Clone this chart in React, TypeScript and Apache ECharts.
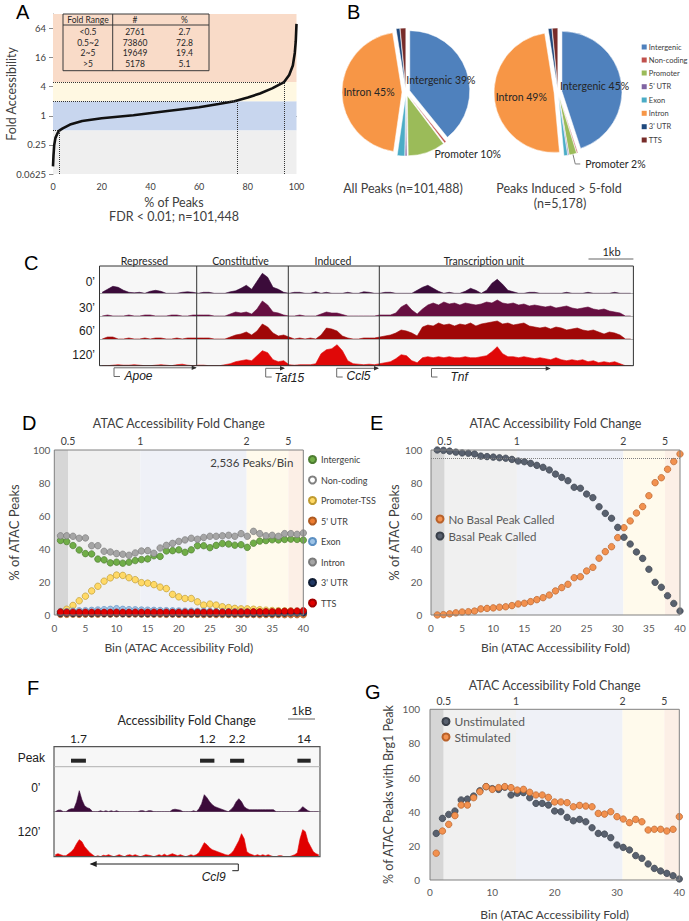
import React, { useEffect, useRef } from "react";
import * as echarts from "echarts";

// ---------------- Panel A data ----------------
const foldRanges = ["<0.5", "0.5~2", "2~5", ">5"];
const foldCounts = [2761, 73860, 19649, 5178];
const foldPercents = [2.7, 72.8, 19.4, 5.1];
const foldThresholds = [0.5, 2, 5];
const curvePct = [0, 0.2, 0.5, 1, 2, 2.7, 4, 7, 12, 20, 33, 47, 60, 68, 74.5, 80, 85, 90, 94.9, 97, 98.5, 99.3, 99.7, 100];
const curveFold = [0.09, 0.15, 0.25, 0.35, 0.45, 0.5, 0.55, 0.66, 0.78, 0.89, 1.03, 1.26, 1.5, 1.75, 2.0, 2.4, 2.9, 3.7, 5, 7, 11, 20, 35, 80];

// ---------------- Panel B data ----------------
const annoNames = ["Intergenic", "Non-coding", "Promoter", "5' UTR", "Exon", "Intron", "3' UTR", "TTS"];
const annoColors = ["#4f81bd", "#c0504d", "#9bbb59", "#8064a2", "#4bacc6", "#f79646", "#1f497d", "#772c2a"];
const allPeaksShare = [39, 0.5, 10, 0.5, 2, 45, 1, 1.5];
const inducedPeaksShare = [45, 0.3, 2, 0.3, 1, 49, 1, 1.5];

// ---------------- Panel C data (coverage per bin, 100 bins) ----------------
const cTimes = ["0\u2019", "30\u2019", "60\u2019", "120\u2019"];
const cSections = ["Repressed", "Constitutive", "Induced", "Transcription unit"];
const cCov0 = [1,4,7,6,3,1,0.5,1,0,2, 3,2,0,0,0,1,1.5,1,0,1, 1,0,0,0,1.5,2.5,5,8,4,12, 20,16,6,4,1,0,1,1,0,0, 1.5,0,1,0,0,0,1,0,0,1.5, 1,0,0,1,1,0,0,0,0,3, 6,8,5,2,0,1,0,0,2,5, 3,0,3,10,14,9,3,1.5,0,0, 1,1,0,0,0,0,0,1,0,0, 0,1,0,0,0,0,1,0,0,0];
const cCov30 = [0,1,0,0,0,1,0,0,1,1, 0,0,0,1,1,0,0,1,1,1, 1,0,0,0,2,4,3,4,2,7, 15,11,4,3,1,0,0,1,0,0, 0,2,4,3,3,1.5,0,0,0,0, 0,0,1,1,1,3,9,12,6,2, 7,11,13,11,14,12,13,11,13,12, 11,12,14,13,16,13,12,13,11,12, 10,11,10,9,10,8,9,10,8,7, 8,9,7,6,7,5,4,3,0,0];
const cCov60 = [0,2,2,0,0,1,0,0,1,0, 1,1,0,0,1,0,1,1,1,1, 1,0,0,0,2,4,5,7,4,8, 15,12,6,3,4,2,0,1,0,1, 0,4,11,10,8,3,1,0,0,1, 1,1,2,3,4,6,9,8,6,3, 12,14,13,16,14,15,13,15,14,16, 13,15,16,17,18,15,16,14,15,16, 13,12,11,12,10,12,11,9,10,11, 9,8,9,7,5,7,6,4,0,0];
const cCov120 = [0,0,0.5,1,0.5,0.5,1,0.5,0,0, 0.5,1,0.5,0,1,1.5,0.5,0,0.5,0.5, 0,0,0,1,2,4,5,6,5,10, 15,13,6,4,5,1,0.5,1,1,1, 2,12,16,17,21,15,5,2,1.5,1, 1.5,1,2,3,4,7,11,10,5,3, 8,9,8,9,8,9,8,8,9,8, 8,9,10,14,19,12,9,9,8,9, 8,7,8,7,6,8,6,5,6,5, 6,4,5,3,4,3,4,2,0,0];

// ---------------- Panel D/E/G data (40 bins) ----------------
const bins = Array.from({ length: 40 }, (_, i) => i + 1);
const foldBinBreaks = [2.2, 13.8, 30.9, 37.6];
const foldBreakLabels = ["0.5", "1", "2", "5"];
const dNames = ["Intergenic", "Non-coding", "Promoter-TSS", "5' UTR", "Exon", "Intron", "3' UTR", "TTS"];
const dIntergenic = [45.2,44.5,42.1,39.4,37.2,37,33.9,33.4,31.6,32,31.4,32,33,33.6,34,35.9,35.5,38.8,39,39.5,38,39.5,42,42,40.8,42.2,43.3,43,42.3,42.6,41,43.5,44.8,45.1,45.6,45.5,45.8,46,45.8,45.4];
const dNonCoding = [0.8,0.9,0.8,0.9,1,0.9,1,1,0.9,1,1.1,1,0.9,1,1,0.9,1,0.9,1,0.8,0.9,0.8,0.9,0.8,0.8,0.7,0.8,0.7,0.8,0.7,0.7,0.8,0.7,0.6,0.7,0.6,0.7,0.6,0.6,0.7];
const dPromoter = [2,3.5,5.8,8.6,11.4,14.6,17.4,20.5,22.5,24.2,24,22.6,21.4,19.6,19.3,18.4,16.9,16,12.5,11,10,10,8,6,6.6,6,5,4.5,4,3.7,3.7,3.5,3.2,2.9,2.7,2.6,2.5,2.4,2.2,2];
const dUtr5 = [0.4,0.4,0.5,0.4,0.5,0.5,0.5,0.6,0.5,0.6,0.6,0.5,0.6,0.5,0.5,0.5,0.5,0.4,0.5,0.4,0.4,0.4,0.4,0.3,0.4,0.3,0.3,0.3,0.3,0.3,0.3,0.3,0.2,0.3,0.2,0.3,0.2,0.2,0.2,0.2];
const dExon = [2,2,2.3,2.5,2.6,2.8,3,3.2,3.4,3.8,3.4,3.2,3.1,3,2.9,2.8,2.7,2.6,2.5,2.4,2.3,2.3,2.2,2.2,2.1,2,2,2,1.9,1.9,1.8,1.8,1.7,1.7,1.6,1.6,1.5,1.5,1.5,1.5];
const dIntron = [48,48,47.7,46.5,46.7,42,42,38.6,38.2,37.2,36.8,36.2,37.6,38.8,39,37.4,40.6,42.2,43.4,44.6,45.5,46.5,45.9,47,47.7,47.7,48,48.3,47.7,49.3,47.7,50.7,49.3,48,48.3,47.7,49.3,49.3,48.9,49.7];
const dUtr3 = [1,1.1,1,1,1.1,1,1.1,1,1,1.1,1,1,1.1,1,1,1,1.1,1,1,1,1,0.9,1,1,0.9,1,1,0.9,1,0.9,1,0.9,1,1,0.9,1,1.1,1.2,1.2,1.3];
const dTts = [1.8,1.7,1.7,1.6,1.7,1.6,1.7,1.6,1.6,1.7,1.6,1.6,1.7,1.6,1.6,1.7,1.6,1.7,1.6,1.6,1.7,1.6,1.7,1.6,1.7,1.7,1.7,1.8,1.7,1.8,1.8,1.9,1.9,2,2,2.1,2.2,2.3,2.4,2.6];
const dSeries = [dIntergenic, dNonCoding, dPromoter, dUtr5, dExon, dIntron, dUtr3, dTts];
const dFill = ["#70ad47", "#ffffff", "#ffd966", "#ed7d31", "#9dc3e6", "#a5a5a5", "#203864", "#e00000"];
const dBorder = ["#4e7d31", "#808080", "#bf9b30", "#ae5a21", "#5b8fc2", "#7b7b7b", "#0f1c33", "#a00000"];

const eBasal = [100,99.8,99.3,98.7,98.2,98,97.6,96.3,96,95.7,95.3,95,94.3,93.3,92.9,91.9,90.7,89.5,87.9,85.4,83.4,81.4,77.4,76.8,73.3,71.1,65.6,61.6,58.6,53.1,47.1,43,38.2,34.3,27.7,19.8,16.8,11.7,7,2.4];
const eNoBasal = [0,0.2,0.7,1.3,1.8,2,2.4,3.7,4,4.3,4.7,5,5.7,6.7,7.1,8.1,9.3,10.5,12.1,14.6,16.6,18.6,22.6,23.2,26.7,28.9,34.4,38.4,41.4,46.9,52.9,57,61.8,65.7,72.3,80.2,83.2,88.3,93,97.6];
const eRefLine = 95;

const gUnstim = [27.3,36.1,38.4,40.4,46.9,47.4,49.2,52.3,54.7,53.5,53.1,54.3,49.8,50.8,51.2,48.2,44.9,44.9,43.9,40.4,40,36.7,34.7,35.5,34.1,30.6,27.3,26.9,24.8,20.5,19.1,17.6,14.3,12.7,9.4,6.8,5.3,3.9,2.5,0.6];
const gStim = [15.7,28.7,32.6,37.7,43.9,43.9,48.2,51.7,54.7,53.1,54.1,54.7,54.1,52.7,53.1,51.4,49.8,49.8,48.4,45.7,45.7,45.3,42.9,43.7,43.3,42.9,39,38.6,40,37.1,35.7,33.6,35.5,34.1,29.3,29.7,29.7,28.7,29.7,37.1];

// ---------------- Panel F data ----------------
const fPeakIntervals = [[6.4, 12], [54.9, 60.3], [66.2, 71.5], [91.5, 96.5]];
const fPeakFolds = [1.7, 1.2, 2.2, 14];
const fCov0 = [0,1.5,1.5,0,0,2,3,3,10,21, 12,6,4,3,0,0,0,1,0,1, 0,1,0,1,0,0,0,0,0,0, 0,0,1,1,0,1,1,0,0,0, 0,0,0,0,2,2.5,2,1.5,0,0, 0,0,1,0,3,8,17,14,10,7, 5,4,3,2,1,0,2,5,10,13, 10,5,3,2,2,2,2,2,2,2, 2,2,2,0,0,0,0,0,0,0, 0,0,2,5,3,1,0,0,0,0];
const fCov120 = [2,3,2,1,1,3,5,8,13,17, 15,10,7,4,2,0,1,0,1.5,1, 2,1,0,1,2,1,0,1.5,2,1, 2,1,0,1,2,1.5,1,0,1,2, 1,2.5,1,2,3,2,1,2,1,0, 1,2,1,2,4,9,14,12,9,7, 6,5,4,3,2,1.5,3,6,11,16, 23,18,5,3,2,1,2,1,2,1, 2,1,0,0,1,1,0,0,0,1, 2,4,18,27,25,15,10,5,3,2];

// ---------------- layout ----------------
const gA = { left: 53, top: 14, width: 243.5, height: 160 };
const gD = { left: 54.3, top: 450, width: 249, height: 165 };
const gE = { left: 431, top: 450, width: 249, height: 165 };
const gG = { left: 430, top: 709.3, width: 249.3, height: 170.7 };
const cLeft = 99.5, cWidth = 533.9;
const cTops = [266, 293.3, 316, 339];
const cHeights = [27.3, 22.7, 23, 26.7];
const cDividers = [196.7, 288.3, 379.3];
const cColors = ["#3b0b3a", "#660f40", "#a00808", "#e00808"];
const fLeft = 54, fWidth = 266;
const fPeakRow = { top: 746.7, height: 20 };
const fRows = [{ top: 766.7, height: 45 }, { top: 811.7, height: 45 }];
const fColors = ["#3b0b3a", "#e00000"];

const bandColors = ["#d6d6d6", "#f0f0f0", "#eff1f7", "#fffaec", "#fcefe6"];
const FONT = "Lato";
const SANS = "Liberation Sans";

const nearestIdx = (arr: number[], v: number) => {
  let b = 0;
  for (let i = 1; i < arr.length; i++) if (Math.abs(arr[i] - v) < Math.abs(arr[b] - v)) b = i;
  return b;
};

function T(x: number, y: number, text: string, o: any = {}) {
  const align = o.align || "center";
  return {
    type: "text", x, y, z: 100, silent: true, rotation: o.rotation || 0,
    style: {
      text, fill: o.fill || "#404040", fontSize: o.size || 12, fontFamily: o.font || FONT,
      fontStyle: o.italic ? "italic" : "normal",
      align, textAlign: align, verticalAlign: "middle", textVerticalAlign: "middle",
    },
  };
}
function L(x1: number, y1: number, x2: number, y2: number, stroke = "#404040", lineWidth = 1) {
  return { type: "line", z: 100, silent: true, shape: { x1, y1, x2, y2 }, style: { stroke, lineWidth } };
}
function R(x: number, y: number, w: number, h: number, stroke = "#7f7f7f", lineWidth = 1) {
  return { type: "rect", z: 100, silent: true, shape: { x, y, width: w, height: h }, style: { fill: "none", stroke, lineWidth } };
}
function geneMark(x0: number, x1: number, yt: number, yb: number, name: string, tx: number, ty: number, leftArrow = false) {
  const els: any[] = [];
  els.push({ type: "polyline", z: 100, silent: true, shape: { points: leftArrow ? [[x1 - 6, yb], [x1, yb], [x1, yt], [x0, yt]] : [[x0 + 6, yb], [x0, yb], [x0, yt], [x1, yt]] }, style: { stroke: leftArrow ? "#202020" : "#6a6a6a", lineWidth: 1, fill: "none" } });
  if (leftArrow) els.push({ type: "polygon", z: 100, silent: true, shape: { points: [[x0 - 1, yt], [x0 + 6, yt - 3], [x0 + 6, yt + 3]] }, style: { fill: "#202020" } });
  else els.push({ type: "polygon", z: 100, silent: true, shape: { points: [[x1 + 1, yt], [x1 - 4, yt - 2.2], [x1 - 4, yt + 2.2]] }, style: { fill: "#303030" } });
  els.push(T(tx, ty, name, { italic: true, font: SANS, size: 12, fill: "#202020", align: leftArrow ? "center" : "left" }));
  return els;
}

function bandArea(edges: number[]) {
  const all = [0, ...edges, 40];
  return {
    silent: true,
    data: all.slice(0, -1).map((s, i) => [
      { xAxis: s, itemStyle: { color: bandColors[i], opacity: 1 } },
      { xAxis: all[i + 1] },
    ]),
  };
}

function buildOption() {
  const log2 = (v: number) => Math.log2(v);
  const cum: number[] = [];
  foldPercents.reduce((acc, p) => { const s = Math.round((acc + p) * 10) / 10; cum.push(s); return s; }, 0);

  const grids: any[] = [
    gA, gD, gE, gG,
    ...cTops.map((t, i) => ({ left: cLeft, width: cWidth, top: t, height: cHeights[i], show: true, backgroundColor: "#f7f7f7", borderWidth: 0 })),
    { left: fLeft, width: fWidth, top: fPeakRow.top, height: fPeakRow.height, show: true, backgroundColor: "#f7f7f7", borderWidth: 0 },
    ...fRows.map((r) => ({ left: fLeft, width: fWidth, top: r.top, height: r.height, show: true, backgroundColor: "#f7f7f7", borderWidth: 0 })),
  ].map((g) => ({ containLabel: false, outerBoundsMode: "none", ...g }));

  const noLine = { show: false };
  const topAxis = (gi: number, nameGap: number, margin: number) => ({
    gridIndex: gi, type: "value", position: "top", min: 0, max: 40,
    name: "ATAC Accessibility Fold Change", nameLocation: "middle", nameGap,
    nameTextStyle: { fontSize: 12.5, color: "#404040", fontFamily: FONT },
    axisLine: noLine, axisTick: noLine, splitLine: noLine,
    axisLabel: {
      customValues: foldBinBreaks,
      formatter: (v: number) => foldBreakLabels[nearestIdx(foldBinBreaks, v)],
      fontSize: 10.5, color: "#404040", margin,
    },
  });
  const binAxis = (gi: number, interval: number, margin: number, nameGap: number) => ({
    gridIndex: gi, type: "value", min: 0, max: 40, interval,
    axisLine: noLine, axisTick: noLine, splitLine: noLine,
    axisLabel: { fontSize: 10, color: "#595959", margin },
    name: "Bin (ATAC Accessibility Fold)", nameLocation: "middle", nameGap,
    nameTextStyle: { fontSize: 12, color: "#404040", fontFamily: FONT },
  });
  const pctAxis = (gi: number, name: string, margin: number, nameGap: number, size: number) => ({
    gridIndex: gi, type: "value", min: 0, max: 100, interval: 20,
    axisLine: noLine, axisTick: noLine, splitLine: noLine,
    axisLabel: { fontSize: 10, color: "#595959", margin },
    name, nameLocation: "middle", nameGap,
    nameTextStyle: { fontSize: size, color: "#404040", fontFamily: FONT },
  });
  const trackX = (gi: number, showLine: boolean) => ({
    gridIndex: gi, type: "value", min: 0, max: 100,
    axisLine: { show: showLine, lineStyle: { color: "#b0b0b0", width: 1 } },
    axisTick: noLine, axisLabel: { show: false }, splitLine: noLine,
  });

  // xAxis indices: 0 A | 1 D-bottom, 2 D-top | 3 E-bottom, 4 E-top | 5 G-bottom, 6 G-top | 7-10 C rows | 11 F peak | 12,13 F rows
  const xAxes: any[] = [
    { gridIndex: 0, type: "value", min: 0, max: 100, interval: 20,
      axisLine: { show: true, lineStyle: { color: "#8c8c8c" } }, axisTick: noLine, splitLine: noLine,
      axisLabel: { fontSize: 9, color: "#404040", margin: 8 } },
    binAxis(1, 5, 8, 26), topAxis(1, 20, 3.5),
    binAxis(2, 5, 8, 26), topAxis(2, 20.5, 3.5),
    binAxis(3, 10, 6.5, 28), topAxis(3, 17.5, 2.6),
    ...cTops.map((_, i) => trackX(4 + i, true)),
    { gridIndex: 8, type: "value", min: 0, max: 100, position: "top",
      axisLine: noLine, axisTick: noLine, splitLine: noLine,
      axisLabel: {
        customValues: fPeakIntervals.map((p) => (p[0] + p[1]) / 2),
        formatter: (v: number) => String(fPeakFolds[nearestIdx(fPeakIntervals.map((p) => (p[0] + p[1]) / 2), v)]),
        fontSize: 12, color: "#202020", margin: 2, fontFamily: FONT,
      } },
    trackX(9, true), trackX(10, false),
  ];

  // yAxis indices: 0 A | 1 D | 2 E | 3 G | 4-7 C rows | 8 F peak | 9,10 F rows
  const yAxes: any[] = [
    { gridIndex: 0, type: "value", min: -4, max: 7, interval: 2,
      axisLine: { show: true, lineStyle: { color: "#8c8c8c" } },
      axisTick: { show: true, length: 4, lineStyle: { color: "#8c8c8c" } }, splitLine: noLine,
      axisLabel: { formatter: (v: number) => String(Math.pow(2, v)), showMaxLabel: false, fontSize: 9.5, color: "#404040", margin: 7 },
      name: "Fold Accessibility", nameLocation: "middle", nameGap: 35, nameMoveOverlap: false,
      nameTextStyle: { fontSize: 12.5, color: "#404040", fontFamily: FONT } },
    pctAxis(1, "% of ATAC Peaks", 4, 33.5, 13),
    pctAxis(2, "% of ATAC Peaks", 8.7, 29.3, 13),
    pctAxis(3, "% of ATAC Peaks with Brg1 Peak", 10, 35, 12.5),
    ...cHeights.map((h, i) => ({ gridIndex: 4 + i, type: "value", min: 0, max: h, show: false })),
    { gridIndex: 8, type: "value", min: 0, max: 1, show: false },
    { gridIndex: 9, type: "value", min: 0, max: fRows[0].height, show: false },
    { gridIndex: 10, type: "value", min: 0, max: fRows[1].height, show: false },
  ];

  const series: any[] = [];

  // Panel A curve
  const aBands = [
    [-4, log2(foldThresholds[0]), "#efefef"],
    [log2(foldThresholds[0]), log2(foldThresholds[1]), "#c8d6ee"],
    [log2(foldThresholds[1]), log2(foldThresholds[2]), "#fff8e2"],
    [log2(foldThresholds[2]), 7, "#f9dbc8"],
  ];
  const aLines: any[] = [];
  foldThresholds.forEach((t, i) => {
    aLines.push([{ coord: [0, log2(t)] }, { coord: [cum[i], log2(t)] }]);
    aLines.push([{ coord: [cum[i], -4] }, { coord: [cum[i], log2(t)] }]);
  });
  series.push({
    type: "line", xAxisIndex: 0, yAxisIndex: 0, name: "curve",
    data: curvePct.map((p, i) => [p, log2(curveFold[i])]),
    showSymbol: false, symbol: "none", lineStyle: { color: "#111", width: 2.6 }, silent: true,
    markArea: { silent: true, data: aBands.map((b) => [{ yAxis: b[0], itemStyle: { color: b[2], opacity: 1 } }, { yAxis: b[1] }]) },
    markLine: { silent: true, symbol: ["none", "none"], label: { show: false }, lineStyle: { type: "dotted", color: "#333", width: 1 }, data: aLines },
  });

  // Panel D
  dSeries.forEach((vals, k) => {
    series.push({
      type: "scatter", name: dNames[k], xAxisIndex: 1, yAxisIndex: 1,
      data: bins.map((b, i) => [b, vals[i]]), symbolSize: 6.5,
      itemStyle: { color: dFill[k], borderColor: dBorder[k], borderWidth: 0.7, opacity: 1 },
      silent: true,
      ...(k === 0 ? { markArea: bandArea(foldBinBreaks) } : {}),
    });
  });

  // Panel E
  series.push({
    type: "scatter", name: "No Basal Peak Called", xAxisIndex: 3, yAxisIndex: 2,
    data: bins.map((b, i) => [b, eNoBasal[i]]), symbolSize: 6.5,
    itemStyle: { color: "#f2914f", borderColor: "#b8612a", borderWidth: 0.7, opacity: 1 }, silent: true,
    markArea: bandArea(foldBinBreaks),
  });
  series.push({
    type: "scatter", name: "Basal Peak Called", xAxisIndex: 3, yAxisIndex: 2,
    data: bins.map((b, i) => [b, eBasal[i]]), symbolSize: 6.5,
    itemStyle: { color: "#59616f", borderColor: "#3a404a", borderWidth: 0.7, opacity: 1 }, silent: true,
    markLine: { silent: true, symbol: ["none", "none"], label: { show: false }, lineStyle: { type: "dotted", color: "#7f7f7f", width: 1 }, data: [{ yAxis: eRefLine }] },
  });

  // Panel G
  series.push({
    type: "scatter", name: "Unstimulated", xAxisIndex: 5, yAxisIndex: 3,
    data: bins.map((b, i) => [b, gUnstim[i]]), symbolSize: 6.5,
    itemStyle: { color: "#59616f", borderColor: "#3a404a", borderWidth: 0.7, opacity: 1 }, silent: true,
    markArea: bandArea(foldBinBreaks),
  });
  series.push({
    type: "scatter", name: "Stimulated", xAxisIndex: 5, yAxisIndex: 3,
    data: bins.map((b, i) => [b, gStim[i]]), symbolSize: 6.5,
    itemStyle: { color: "#f2914f", borderColor: "#b8612a", borderWidth: 0.7, opacity: 1 }, silent: true,
  });

  // Panel C tracks
  [cCov0, cCov30, cCov60, cCov120].forEach((cov, i) => {
    series.push({
      type: "line", xAxisIndex: 7 + i, yAxisIndex: 4 + i, silent: true,
      data: cov.map((v, j) => [j + 0.5, v]), showSymbol: false, symbol: "none",
      lineStyle: { color: cColors[i], width: 0.6 }, areaStyle: { color: cColors[i], opacity: 1 },
    });
  });

  // Panel F peaks & tracks
  series.push({
    type: "custom", xAxisIndex: 11, yAxisIndex: 8, silent: true,
    data: fPeakIntervals, encode: { x: [0, 1] },
    renderItem: (params: any, api: any) => {
      const s = api.coord([api.value(0), 0.3]);
      const e = api.coord([api.value(1), 0.3]);
      return { type: "rect", shape: { x: s[0], y: s[1] - 2, width: e[0] - s[0], height: 4 }, style: { fill: "#262626" } };
    },
  });
  [fCov0, fCov120].forEach((cov, i) => {
    series.push({
      type: "line", xAxisIndex: 12 + i, yAxisIndex: 9 + i, silent: true,
      data: cov.map((v, j) => [j + 0.5, v]), showSymbol: false, symbol: "none",
      lineStyle: { color: fColors[i], width: 0.6 }, areaStyle: { color: fColors[i], opacity: 1 },
    });
  });

  // Panel B pies
  const pie = (center: number[], shares: number[], promoLine: boolean) => ({
    type: "pie", center, radius: 60, startAngle: 90, clockwise: true,
    selectedMode: "multiple", selectedOffset: 4, percentPrecision: 0, avoidLabelOverlap: false,
    label: { show: false }, labelLine: { show: false }, silent: true,
    itemStyle: { borderColor: "#ffffff", borderWidth: 0.5 },
    data: annoNames.map((n, i) => {
      const item: any = { name: n, value: shares[i], selected: true, itemStyle: { color: annoColors[i] } };
      if (n === "Intergenic" || n === "Intron") {
        item.label = { show: true, position: "inside", formatter: "{b} {d}%", color: "#262626", fontSize: 10.5, fontFamily: FONT };
      }
      if (n === "Promoter") {
        item.label = { show: true, position: "outside", formatter: "{b} {d}%", color: "#262626", fontSize: 10.5, fontFamily: FONT };
        item.labelLine = promoLine
          ? { show: true, length: 10, length2: 5, lineStyle: { color: "#7f7f7f", width: 1 } }
          : { show: false, length: 2, length2: 2 };
      }
      return item;
    }),
  });
  series.push(pie([406, 92], allPeaksShare, false));
  series.push(pie([558, 92], inducedPeaksShare, true));

  // ---------- graphic ----------
  const g: any[] = [];
  [["A", 16, 12], ["B", 347, 12], ["C", 24, 263], ["D", 22, 423], ["E", 370, 423], ["F", 27, 688], ["G", 365, 692]].forEach((p: any) =>
    g.push(T(p[1], p[2], p[0], { size: 20, font: SANS, fill: "#000", align: "left" })));

  // Panel A table
  const tx0 = 63, tx1 = 209, ty0 = 14, ty1 = 70.7;
  g.push(R(tx0, ty0, tx1 - tx0, ty1 - ty0, "#3a3a3a", 1));
  g.push(L(tx0, 25, tx1, 25, "#3a3a3a", 1));
  g.push(L(112.7, ty0, 112.7, ty1, "#3a3a3a", 1));
  const colX = [88, 135, 184.5];
  ["Fold Range", "#", "%"].forEach((h, i) => g.push(T(colX[i], 19.7, h, { size: 8.5, fill: "#262626" })));
  const rowY = [32, 42.7, 53.3, 64.2];
  foldRanges.forEach((r, i) => {
    g.push(T(colX[0], rowY[i], r, { size: 8.5, fill: "#262626" }));
    g.push(T(colX[1], rowY[i], String(foldCounts[i]), { size: 8.5, fill: "#262626" }));
    g.push(T(colX[2], rowY[i], foldPercents[i].toFixed(1), { size: 8.5, fill: "#262626" }));
  });
  g.push(T(174, 202, "% of Peaks", { size: 12.5 }));
  g.push(T(174, 216.5, "FDR < 0.01; n=101,448", { size: 12.5 }));

  // Panel B titles + legend
  g.push(T(403, 188, "All Peaks (n=101,488)", { size: 12.5 }));
  g.push(T(559, 188, "Peaks Induced > 5-fold", { size: 12.5 }));
  g.push(T(560, 203.5, "(n=5,178)", { size: 12.5 }));
  const legY = [47, 60, 73, 86.7, 100, 113.3, 126.7, 140];
  annoNames.forEach((n, i) => {
    g.push({ type: "rect", z: 100, silent: true, shape: { x: 641.7, y: legY[i] - 2.5, width: 5, height: 5 }, style: { fill: annoColors[i] } });
    g.push(T(648.8, legY[i], n, { size: 7.5, align: "left", fill: "#404040" }));
  });

  // Panel C decorations
  const cBottom = cTops[3] + cHeights[3];
  g.push(R(cLeft, cTops[0], cWidth, cBottom - cTops[0], "#333", 1));
  cDividers.forEach((x) => g.push(L(x, cTops[0], x, cBottom, "#333", 1)));
  const secCenters = [144.5, 240.5, 333, 484];
  cSections.forEach((s, i) => g.push(T(secCenters[i], 260.8, s, { size: 10.5, fill: "#262626" })));
  const rowLabelY = [282, 308, 331, 355];
  cTimes.forEach((t, i) => g.push(T(95, rowLabelY[i], t, { size: 12, font: SANS, align: "right", fill: "#202020" })));
  g.push(T(611.5, 251.7, "1kb", { size: 11, fill: "#262626" }));
  g.push(L(588.5, 259, 633.4, 259, "#999", 1.5));
  g.push(...geneMark(114, 195.7, 367.8, 376.5, "Apoe", 124.5, 375.8));
  g.push(...geneMark(265.7, 284, 368.3, 377, "Taf15", 274.5, 377.8));
  g.push(...geneMark(336.7, 378, 368.3, 377, "Ccl5", 346.5, 376.2));
  g.push(...geneMark(431.5, 549.7, 368.5, 377, "Tnf", 450.5, 376.5));

  // Panel D/E/G frames and notes
  [gD, gE, gG].forEach((gr) => g.push(R(gr.left, gr.top, gr.width, gr.height, "#808080", 1)));
  g.push(T(293.3, 462.7, "2,536 Peaks/Bin", { size: 11.5, align: "right", fill: "#404040" }));

  // Panel F decorations
  const fBottom = fRows[1].top + fRows[1].height;
  g.push(R(fLeft, fPeakRow.top, fWidth, fBottom - fPeakRow.top, "#555", 1.2));
  g.push(L(fLeft, fRows[0].top, fLeft + fWidth, fRows[0].top, "#b0b0b0", 1));
  g.push(T(186.7, 720, "Accessibility Fold Change", { size: 12.5, fill: "#262626" }));
  g.push(T(301.7, 710.7, "1kB", { size: 12, fill: "#262626" }));
  g.push(L(288, 719, 315, 719, "#999", 1.5));
  g.push(T(45, 757.7, "Peak", { size: 12, font: SANS, align: "right", fill: "#202020" }));
  g.push(T(40.5, 788.3, "0\u2019", { size: 12, font: SANS, align: "right", fill: "#202020" }));
  g.push(T(40.5, 831.7, "120\u2019", { size: 12, font: SANS, align: "right", fill: "#202020" }));
  g.push(...geneMark(90.7, 238.3, 864, 870.7, "Ccl9", 213.7, 877, true));

  const legendBase = { orient: "vertical", icon: "circle", itemWidth: 7, itemHeight: 7, padding: 0, selectedMode: false };
  const legends = [
    { ...legendBase, data: dNames, left: 308, top: 455, itemGap: 11.5, textStyle: { fontSize: 9, color: "#404040", fontFamily: FONT } },
    { ...legendBase, data: ["No Basal Peak Called", "Basal Peak Called"], left: 435.5, top: 513, itemGap: 5, textStyle: { fontSize: 11.5, color: "#595959", fontFamily: FONT } },
    { ...legendBase, data: ["Unstimulated", "Stimulated"], left: 441.5, top: 715.5, itemGap: 3.5, textStyle: { fontSize: 12, color: "#595959", fontFamily: FONT } },
  ];

  return {
    animation: false,
    textStyle: { fontFamily: FONT },
    grid: grids,
    xAxis: xAxes,
    yAxis: yAxes,
    legend: legends,
    series,
    graphic: { elements: g },
  };
}

export default function App() {
  const ref = useRef<HTMLDivElement>(null);
  useEffect(() => {
    if (!ref.current) return;
    const chart = echarts.init(ref.current, undefined, { renderer: "svg" });
    chart.setOption(buildOption() as any);
    return () => chart.dispose();
  }, []);
  return (
    <div
      ref={ref}
      style={{ position: "absolute", left: 0, top: 0, width: 689, height: 921, background: "#ffffff" }}
    />
  );
}
